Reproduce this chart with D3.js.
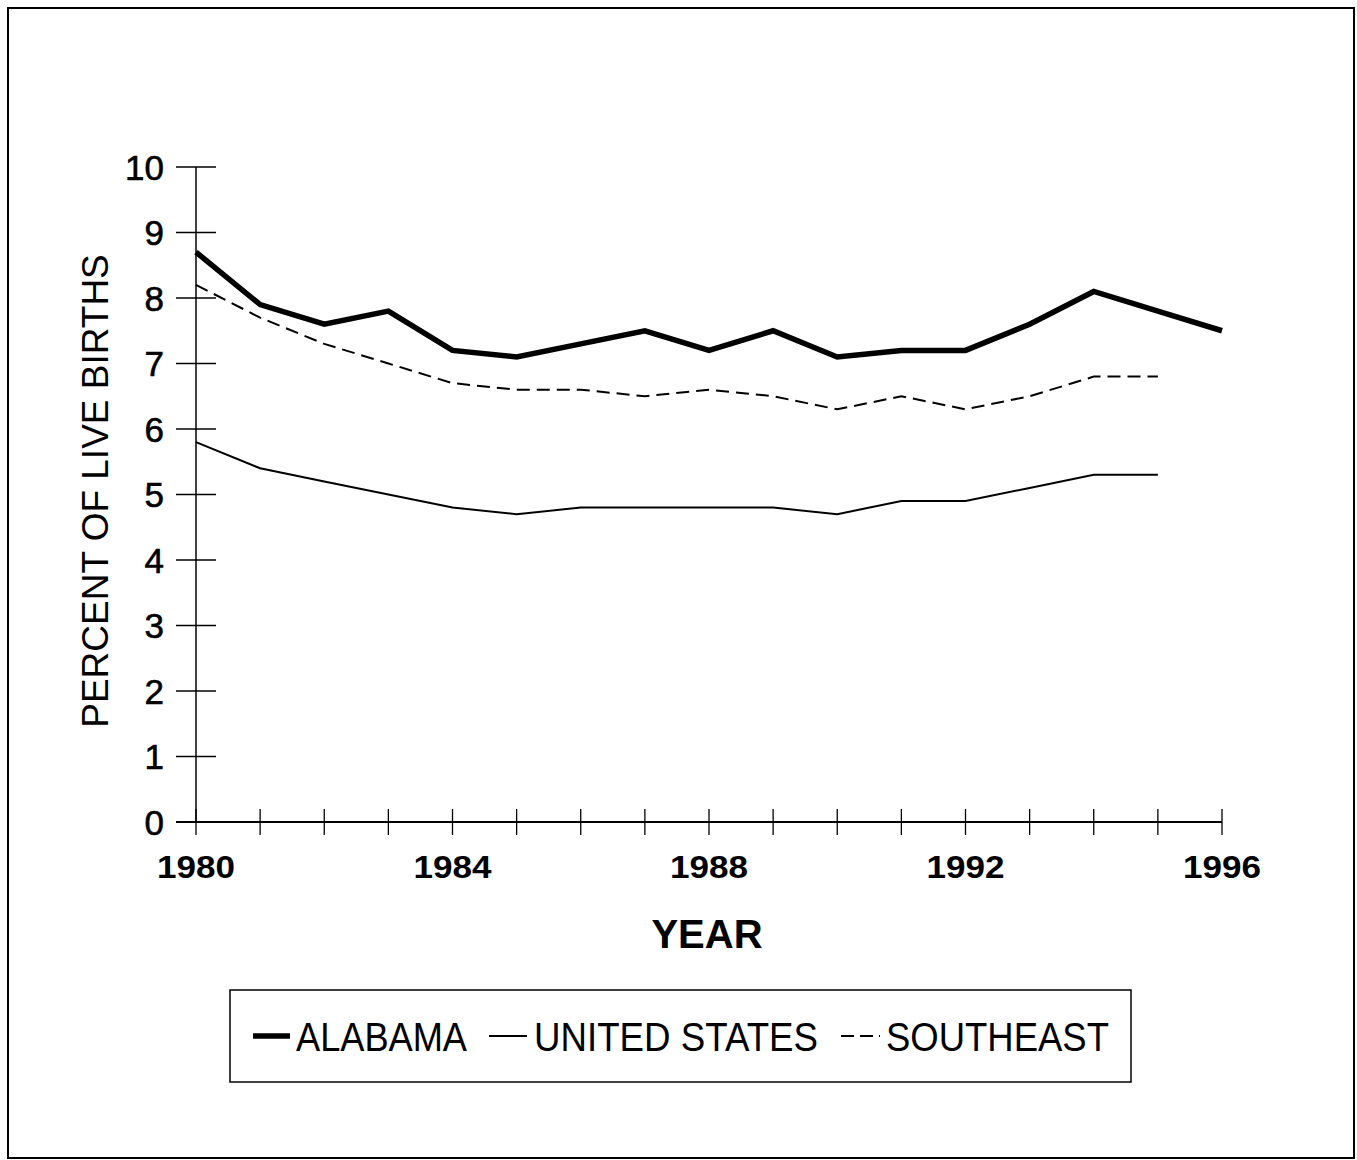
<!DOCTYPE html>
<html><head><meta charset="utf-8">
<script src="https://cdn.jsdelivr.net/npm/d3@7"></script>
<style>body{margin:0;background:#fff}svg{display:block}</style>
</head><body>
<svg id="c" width="1357" height="1160"></svg>
<script>
const years = [1980,1981,1982,1983,1984,1985,1986,1987,1988,1989,1990,1991,1992,1993,1994,1995,1996];
const alabama = [8.7,7.9,7.6,7.8,7.2,7.1,7.3,7.5,7.2,7.5,7.1,7.2,7.2,7.6,8.1,7.8,7.5];
const unitedStates = [5.8,5.4,5.2,5.0,4.8,4.7,4.8,4.8,4.8,4.8,4.7,4.9,4.9,5.1,5.3,5.3];
const southeast = [8.2,7.7,7.3,7.0,6.7,6.6,6.6,6.5,6.6,6.5,6.3,6.5,6.3,6.5,6.8,6.8];
const yTicks = [0,1,2,3,4,5,6,7,8,9,10];
const xTickLabels = [1980,1984,1988,1992,1996];
const seriesNames = ["ALABAMA","UNITED STATES","SOUTHEAST"];

const svg = d3.select("#c");
const font = "'Liberation Sans', Arial, sans-serif";
svg.append("rect").attr("x",8).attr("y",8).attr("width",1346).attr("height",1150)
  .attr("fill","none").attr("stroke","#000").attr("stroke-width",2);

const x = d3.scaleLinear().domain([1980,1996]).range([196,1222]);
const y = d3.scaleLinear().domain([0,10]).range([822,167]);

// y axis
svg.append("line").attr("x1",x(1980)).attr("x2",x(1980)).attr("y1",y(0)).attr("y2",y(10))
  .attr("stroke","#000").attr("stroke-width",1.5);
svg.selectAll(".yt").data(yTicks).join("line")
  .attr("x1",x(1980)-20).attr("x2",x(1980)+20).attr("y1",d=>y(d)).attr("y2",d=>y(d))
  .attr("stroke","#000").attr("stroke-width",1.3);
svg.selectAll(".yl").data(yTicks).join("text")
  .attr("x",164).attr("y",d=>y(d)).attr("dy","0.36em").attr("text-anchor","end")
  .attr("font-family",font).attr("font-size",35).attr("stroke","#000").attr("stroke-width",0.6)
  .text(d=>d);

// x axis
svg.append("line").attr("x1",x(1980)-20).attr("x2",x(1996)).attr("y1",y(0)).attr("y2",y(0))
  .attr("stroke","#000").attr("stroke-width",1.8);
svg.selectAll(".xt").data(years).join("line")
  .attr("x1",d=>x(d)).attr("x2",d=>x(d)).attr("y1",y(0)-13).attr("y2",y(0)+13)
  .attr("stroke","#000").attr("stroke-width",1.3);
svg.selectAll(".xl").data(xTickLabels).join("text")
  .attr("x",d=>x(d)-39).attr("y",878)
  .attr("font-family",font).attr("font-size",32).attr("font-weight","bold")
  .attr("textLength",78).attr("lengthAdjust","spacingAndGlyphs").text(d=>d);

svg.append("text").attr("x",707).attr("y",948).attr("text-anchor","middle")
  .attr("font-family",font).attr("font-size",40).attr("font-weight","bold").text("YEAR");
svg.append("text").attr("transform","translate(108,491) rotate(-90)").attr("text-anchor","middle")
  .attr("font-family",font).attr("font-size",37).text("PERCENT OF LIVE BIRTHS");

const line = d3.line().x((d,i)=>x(years[i])).y(d=>y(d));
svg.append("path").datum(southeast).attr("d",line).attr("fill","none")
  .attr("stroke","#000").attr("stroke-width",2).attr("stroke-dasharray","13,7");
svg.append("path").datum(unitedStates).attr("d",line).attr("fill","none")
  .attr("stroke","#000").attr("stroke-width",2);
svg.append("path").datum(alabama).attr("d",line).attr("fill","none")
  .attr("stroke","#000").attr("stroke-width",5.5).attr("stroke-linejoin","miter");

// legend
svg.append("rect").attr("x",230).attr("y",990).attr("width",901).attr("height",92)
  .attr("fill","none").attr("stroke","#000").attr("stroke-width",1.5);
const leg = [
  {name:seriesNames[0], x1:253, x2:290, tx:296, len:171, w:5.5, dash:null},
  {name:seriesNames[1], x1:489, x2:527, tx:534, len:284, w:2, dash:null},
  {name:seriesNames[2], x1:841, x2:880, tx:886, len:223, w:2, dash:"13,6"}
];
leg.forEach(l=>{
  svg.append("line").attr("x1",l.x1).attr("x2",l.x2).attr("y1",1036).attr("y2",1036)
    .attr("stroke","#000").attr("stroke-width",l.w).attr("stroke-dasharray",l.dash);
  svg.append("text").attr("x",l.tx).attr("y",1051).attr("font-family",font).attr("font-size",40)
    .attr("textLength",l.len).attr("lengthAdjust","spacingAndGlyphs").text(l.name);
});
</script>
</body></html>
